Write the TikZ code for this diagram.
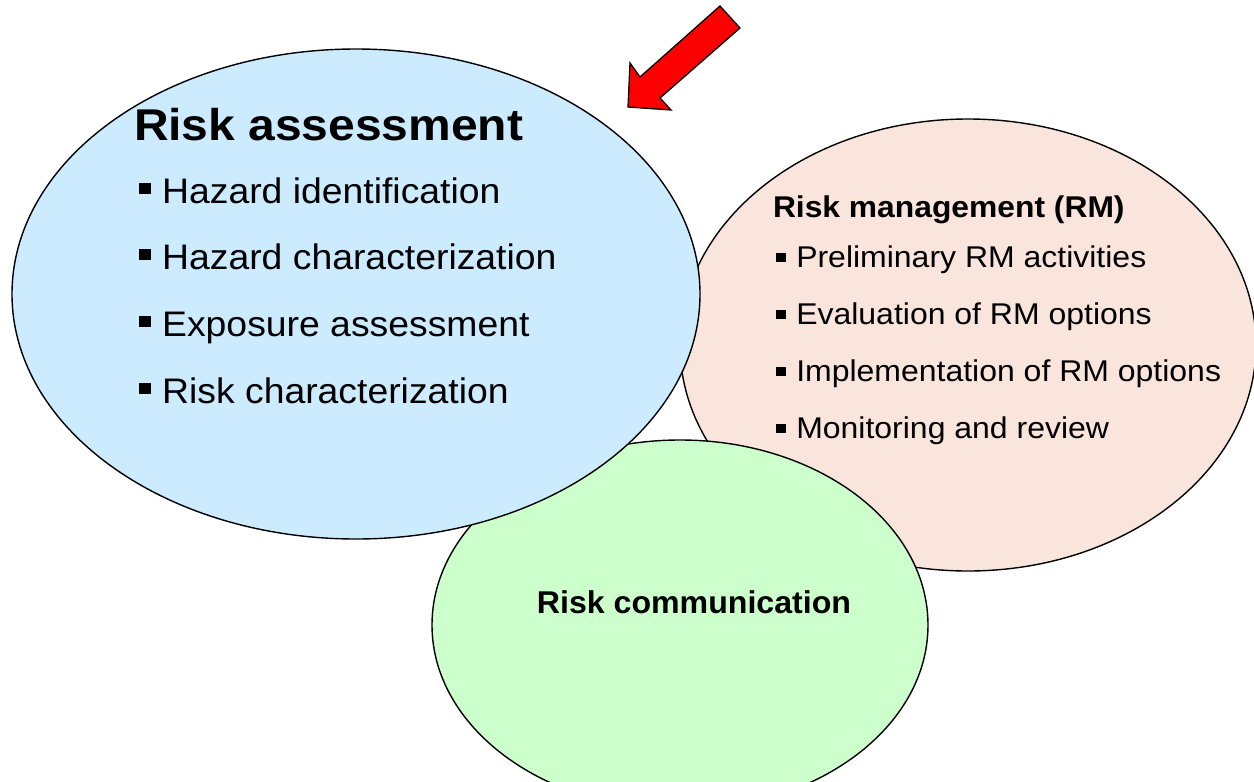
\documentclass[tikz,border=0pt]{standalone}
\usepackage{fontspec}
\setmainfont{Liberation Sans}
\usetikzlibrary{shapes.geometric}
\definecolor{rablue}{HTML}{CCEBFF}
\definecolor{rmpeach}{HTML}{FAE5DC}
\definecolor{rcgreen}{HTML}{CCFFCC}
\definecolor{arrred}{HTML}{FF0000}
\newcommand\sqbul[2]{\rule[#2]{#1}{#1}}
\newcommand\bigbul{\sqbul{11pt}{9pt}\hspace{11pt}}
\newcommand\smallbul{\sqbul{9pt}{5pt}\hspace{10pt}}
\begin{document}
\begin{tikzpicture}[x=1pt,y=-1pt,
  blob/.style={ellipse, draw=black, line width=1.4pt, inner sep=0pt, outer sep=0pt},
  txt/.style={anchor=base west, inner sep=0pt, outer sep=0pt, text=black},
  bigitem/.style={txt, font=\fontsize{35.5}{40}\selectfont},
  smallitem/.style={txt, font=\fontsize{30}{34}\selectfont}]
\useasboundingbox (0,0) rectangle (1254,782);
% ellipses (back to front)
\node[blob, fill=rmpeach, minimum width=576pt, minimum height=452pt] (rm) at (968,345) {};
\node[blob, fill=rcgreen, minimum width=496pt, minimum height=370pt] (rc) at (680,625) {};
\node[blob, fill=rablue, minimum width=688pt, minimum height=490pt] (ra) at (356,294) {};
% red arrow
\draw[fill=arrred, draw=black, line width=1.3pt, line join=miter]
  (720,6) -- (740,28) -- (660,98) -- (671,110) -- (628,107) -- (630,63) -- (640,77) -- cycle;
% risk assessment texts
\node[txt, font=\fontsize{44.5}{50}\selectfont\bfseries] (ratitle) at (134,140) {\scalebox{1.078}[1]{Risk assessment}};
\node[bigitem] (ra1) at (139,203) {\scalebox{1.052}[1]{\bigbul Hazard identification}};
\node[bigitem] (ra2) at (139,269) {\scalebox{1.052}[1]{\bigbul Hazard characterization}};
\node[bigitem] (ra3) at (139,336) {\scalebox{1.052}[1]{\bigbul Exposure assessment}};
\node[bigitem] (ra4) at (139,403) {\scalebox{1.052}[1]{\bigbul Risk characterization}};
% risk management texts
\node[txt, font=\fontsize{30}{34}\selectfont\bfseries] (rmtitle) at (773,217) {\scalebox{1.06}[1]{Risk management (RM)}};
\node[smallitem] (rm1) at (776,267) {\scalebox{1.066}[1]{\smallbul Preliminary RM activities}};
\node[smallitem] (rm2) at (776,324) {\scalebox{1.066}[1]{\smallbul Evaluation of RM options}};
\node[smallitem] (rm3) at (776,381) {\scalebox{1.066}[1]{\smallbul Implementation of RM options}};
\node[smallitem] (rm4) at (776,438) {\scalebox{1.066}[1]{\smallbul Monitoring and review}};
% risk communication
\node[anchor=base, inner sep=0pt, font=\fontsize{31.5}{35}\selectfont\bfseries] (rctitle) at (694,613) {\scalebox{1.02}[1]{Risk communication}};
\end{tikzpicture}
\end{document}
